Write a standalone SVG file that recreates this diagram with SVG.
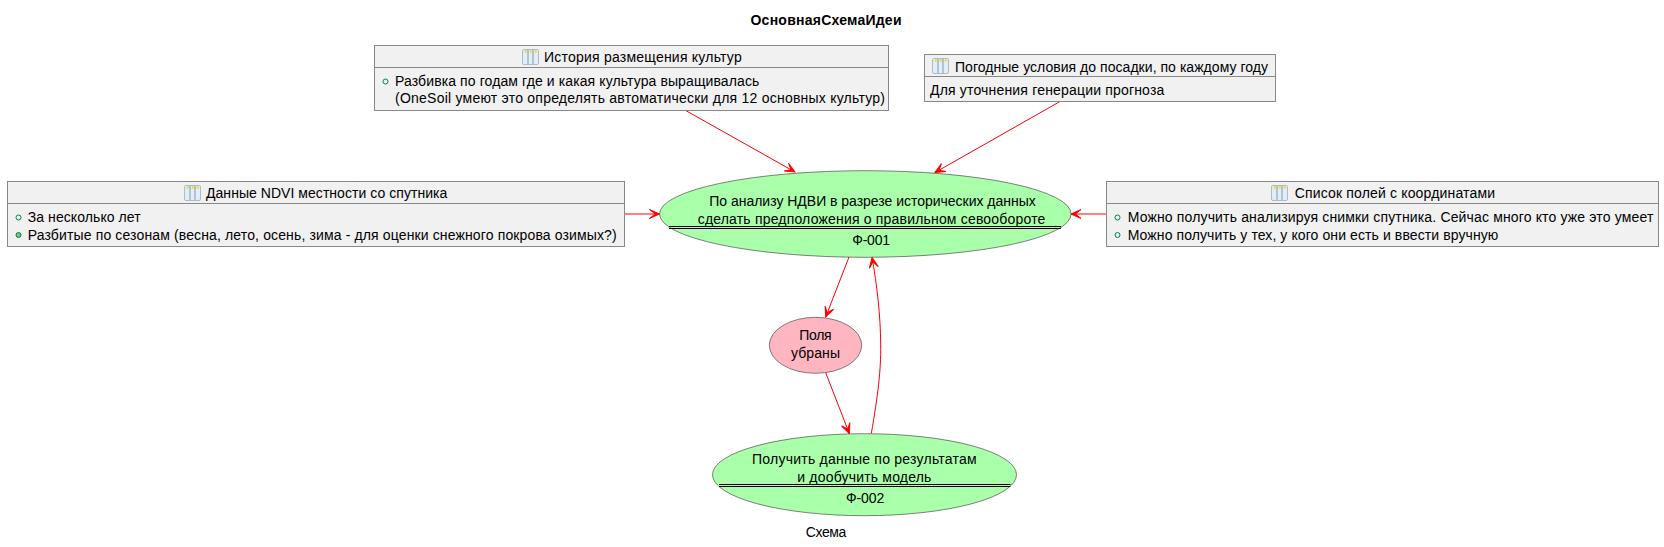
<svg xmlns="http://www.w3.org/2000/svg" xmlns:xlink="http://www.w3.org/1999/xlink" width="1664" height="547" viewBox="0 0 1664 547">
<style>
text{font-family:"Liberation Sans",Arial,sans-serif;font-size:14px;fill:#000}
.title{font-weight:bold}
.box{fill:#F1F1F1;stroke:#888;stroke-width:1}
.div{stroke:#888;stroke-width:1;fill:none}
.st{fill:#AAFFAA;stroke:#333;stroke-width:.6}
.pk{fill:#FFB6C1;stroke:#333;stroke-width:.6}
.sep{stroke:#000;stroke-width:1;fill:none}
.ln{stroke:#FF0000;stroke-width:1;fill:none;marker-end:url(#arr)}
.bo{fill:none;stroke:#038048;stroke-width:1}
.bf{fill:#84BE84;stroke:#038048;stroke-width:1}
</style>
<defs>
<marker id="arr" markerUnits="userSpaceOnUse" markerWidth="24" markerHeight="24" refX="12" refY="12" orient="auto" overflow="visible">
<path d="M12 12L2 7.5L7.5 12L2 16.5Z" fill="#FF0000" stroke="#FF0000" stroke-width="1"/>
</marker>
<g id="tbl">
<rect x="0.5" y="0.5" width="16" height="15" rx="1.5" fill="#E2EDF6" stroke="#A9BCCB"/>
<rect x="1" y="1" width="15" height="3" fill="#EBE9C8"/>
<path d="M3 2.5H4.5M8 2.5H9.5M13 2.5H14.5" stroke="#F2CE2E" stroke-width="2" fill="none"/>
<path d="M6 1V15M11 1V15" stroke="#7F9BB2" fill="none"/>
</g>
</defs>
<text class="title" x="750.5" y="25" textLength="151" lengthAdjust="spacing">ОсновнаяСхемаИдеи</text>
<g id="connectors">
<path class="ln" d="M685.7 110.5L795 172"/>
<path class="ln" d="M1060 101.5L935 172.5"/>
<path class="ln" d="M624.5 214H659.5"/>
<path class="ln" d="M1106.5 214H1071"/>
<path class="ln" d="M849 257L825.7 317"/>
<path class="ln" d="M825.7 372.7L849.3 433.5"/>
<path class="ln" d="M871.3 433.5C878 395 881 370 880.7 345C880.5 315 877 285 872 257.5"/>
</g>
<g id="history">
<rect class="box" x="374.5" y="45.5" width="514" height="65"/>
<path class="div" d="M374.5 67.5H888.5"/>
<use xlink:href="#tbl" href="#tbl" x="522" y="49"/>
<text x="544" y="62" textLength="197.7" lengthAdjust="spacing">История размещения культур</text>
<circle class="bo" cx="385.5" cy="81.5" r="2.5"/>
<text x="395" y="86" textLength="364.3" lengthAdjust="spacing">Разбивка по годам где и какая культура выращивалась</text>
<text x="395" y="103" textLength="490" lengthAdjust="spacing">(OneSoil умеют это определять автоматически для 12 основных культур)</text>
</g>
<g id="weather">
<rect class="box" x="924.5" y="54.5" width="351" height="47"/>
<path class="div" d="M924.5 76.5H1275.5"/>
<use xlink:href="#tbl" href="#tbl" x="932" y="58"/>
<text x="955" y="71.5" textLength="313" lengthAdjust="spacing">Погодные условия до посадки, по каждому году</text>
<text x="930" y="95" textLength="234.3" lengthAdjust="spacing">Для уточнения генерации прогноза</text>
</g>
<g id="ndvi">
<rect class="box" x="7.5" y="181.5" width="617" height="65"/>
<path class="div" d="M7.5 203.5H624.5"/>
<use xlink:href="#tbl" href="#tbl" x="184" y="185"/>
<text x="206" y="198" textLength="241.3" lengthAdjust="spacing">Данные NDVI местности со спутника</text>
<circle class="bo" cx="18.5" cy="217.5" r="2.5"/>
<text x="27.7" y="222" textLength="113" lengthAdjust="spacing">За несколько лет</text>
<circle class="bf" cx="18.5" cy="235" r="2.5"/>
<text x="27.7" y="239.5" textLength="589" lengthAdjust="spacing">Разбитые по сезонам (весна, лето, осень, зима - для оценки снежного покрова озимых?)</text>
</g>
<g id="fields">
<rect class="box" x="1106.5" y="181.5" width="552" height="65"/>
<path class="div" d="M1106.5 203.5H1658.5"/>
<use xlink:href="#tbl" href="#tbl" x="1271" y="185"/>
<text x="1294.7" y="198" textLength="200.3" lengthAdjust="spacing">Список полей с координатами</text>
<circle class="bo" cx="1117.5" cy="217.5" r="2.5"/>
<text x="1127.7" y="222" textLength="525.6" lengthAdjust="spacing">Можно получить анализируя снимки спутника. Сейчас много кто уже это умеет</text>
<circle class="bo" cx="1117.5" cy="235" r="2.5"/>
<text x="1127.7" y="239.5" textLength="370.6" lengthAdjust="spacing">Можно получить у тех, у кого они есть и ввести вручную</text>
</g>
<g id="f001">
<ellipse class="st" cx="865.3" cy="214" rx="205.8" ry="43.3"/>
<text x="709.3" y="206" textLength="326.4" lengthAdjust="spacing">По анализу НДВИ в разрезе исторических данных</text>
<text x="697.7" y="224" textLength="347.7" lengthAdjust="spacing">сделать предположения о правильном севообороте</text>
<path class="sep" d="M669 226.5H1061M669 228.5H1061"/>
<text x="852.3" y="245" textLength="37.7" lengthAdjust="spacing">Ф-001</text>
</g>
<g id="harvested">
<ellipse class="pk" cx="815.5" cy="345.3" rx="46.2" ry="28"/>
<text x="799.3" y="340" textLength="32.4" lengthAdjust="spacing">Поля</text>
<text x="791" y="358" textLength="49" lengthAdjust="spacing">убраны</text>
</g>
<g id="f002">
<ellipse class="st" cx="864.5" cy="474.7" rx="152" ry="41"/>
<text x="752" y="464.3" textLength="224.7" lengthAdjust="spacing">Получить данные по результатам</text>
<text x="797.3" y="482.3" textLength="134" lengthAdjust="spacing">и дообучить модель</text>
<path class="sep" d="M719 484.5H1010.5M719 486.5H1010.5"/>
<text x="846" y="503.3" textLength="38.3" lengthAdjust="spacing">Ф-002</text>
</g>
<text x="805.7" y="536.7" textLength="40.6" lengthAdjust="spacing">Схема</text>
</svg>
